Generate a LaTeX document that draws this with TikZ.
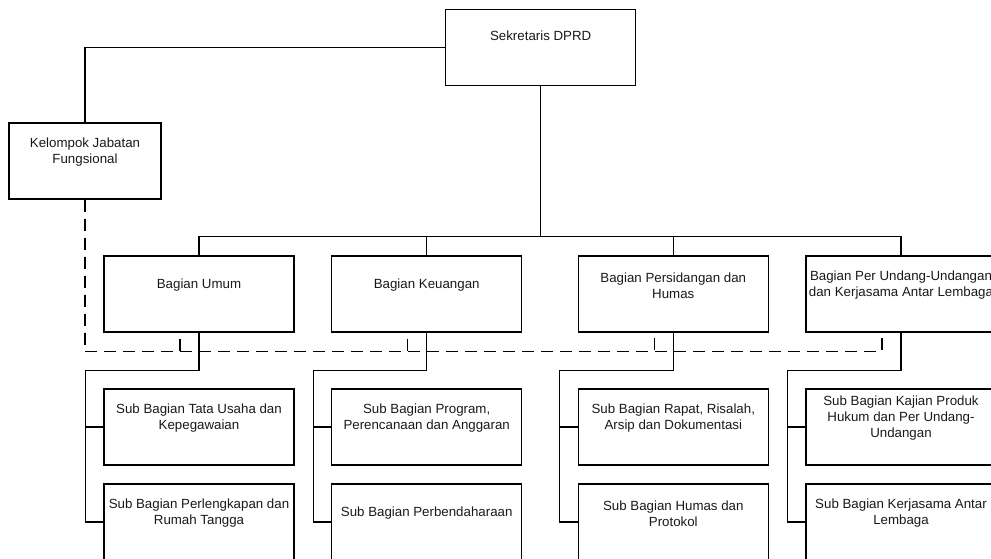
\documentclass[tikz,border=0pt]{standalone}
\usepackage{fontspec}
\setmainfont{Liberation Sans}
\usetikzlibrary{calc}
\tikzset{
  unit/.style={draw,line width=1.2pt,minimum width=190pt,minimum height=76pt,inner sep=0pt},
  caption/.style={align=center,inner sep=0pt,text=black!90,font=\fontsize{13.3}{16}\selectfont},
  link/.style={line width=1.2pt},
  kjflink/.style={line width=1.2pt,dash pattern=on 12pt off 7pt},
}

\begin{document}
\begin{tikzpicture}[x=1pt,y=-1pt]
  \useasboundingbox (0,0) rectangle (991,558);
  \clip (0,0) rectangle (991,558);

  % top level
  \node[unit] (sek) at (540.7,47.5) {};
  \node[caption] (sek-t) at ($(sek.north)+(0,27)$) {Sekretaris DPRD};
  \node[unit,minimum width=152pt] (kjf) at (85,161) {};
  \node[caption] (kjf-t) at ($(kjf.north)+(0,30)$) {Kelompok Jabatan\\Fungsional};

  % bagian
  \node[unit] (umum) at (199,294) {};
  \node[unit] (keu) at (426.7,294) {};
  \node[unit] (pers) at (673.3,294) {};
  \node[unit] (puu) at (901,294) {};
  \node[caption] (umum-t) at ($(umum.north)+(0,30)$) {Bagian Umum};
  \node[caption] (keu-t) at ($(keu.north)+(0,30)$) {Bagian Keuangan};
  \node[caption] (pers-t) at ($(pers.north)+(0,30)$) {Bagian Persidangan dan\\Humas};
  \node[caption] (puu-t) at ($(puu.north)+(0,30)$) {Bagian Per Undang-Undangan\\dan Kerjasama Antar Lembaga};

  % sub bagian
  \node[unit] (umum-a) at (199,427) {};
  \node[unit] (umum-b) at (199,522) {};
  \node[unit] (keu-a) at (426.7,427) {};
  \node[unit] (keu-b) at (426.7,522) {};
  \node[unit] (pers-a) at (673.3,427) {};
  \node[unit] (pers-b) at (673.3,522) {};
  \node[unit] (puu-a) at (901,427) {};
  \node[unit] (puu-b) at (901,522) {};
  \node[caption] (umum-at) at ($(umum-a.north)+(0,30)$) {Sub Bagian Tata Usaha dan\\Kepegawaian};
  \node[caption] (umum-bt) at ($(umum-b.north)+(0,30)$) {Sub Bagian Perlengkapan dan\\Rumah Tangga};
  \node[caption] (keu-at) at ($(keu-a.north)+(0,30)$) {Sub Bagian Program,\\Perencanaan dan Anggaran};
  \node[caption] (keu-bt) at ($(keu-b.north)+(0,30)$) {Sub Bagian Perbendaharaan};
  \node[caption] (pers-at) at ($(pers-a.north)+(0,30)$) {Sub Bagian Rapat, Risalah,\\Arsip dan Dokumentasi};
  \node[caption] (pers-bt) at ($(pers-b.north)+(0,30)$) {Sub Bagian Humas dan\\Protokol};
  \node[caption] (puu-at) at ($(puu-a.north)+(0,30)$) {Sub Bagian Kajian Produk\\Hukum dan Per Undang-\\Undangan};
  \node[caption] (puu-bt) at ($(puu-b.north)+(0,30)$) {Sub Bagian Kerjasama Antar\\Lembaga};

  % connectors
  \coordinate (bus) at (540.7,236.7);
  \draw[link] (sek.west) -| (kjf.north);
  \draw[link] (sek.south) -- (bus);
  \draw[link] (umum.north) |- (bus -| puu.north) -- (puu.north);
  \draw[link] (keu.north) -- (keu.north |- bus);
  \draw[link] (pers.north) -- (pers.north |- bus);
  \foreach \b in {umum,keu,pers,puu}{
    \draw[link] (\b.south) -- ++(0,37.5) -| ($(\b-b.west)+(-18,0)$) -- (\b-b.west);
    \draw[link] (\b-a.west) -- ++(-18,0);
    \draw[kjflink] (kjf.south) |- ($(\b.south)+(-19,18.7)$) -- ($(\b.south)+(-19,0)$);
  }
\end{tikzpicture}
\end{document}
